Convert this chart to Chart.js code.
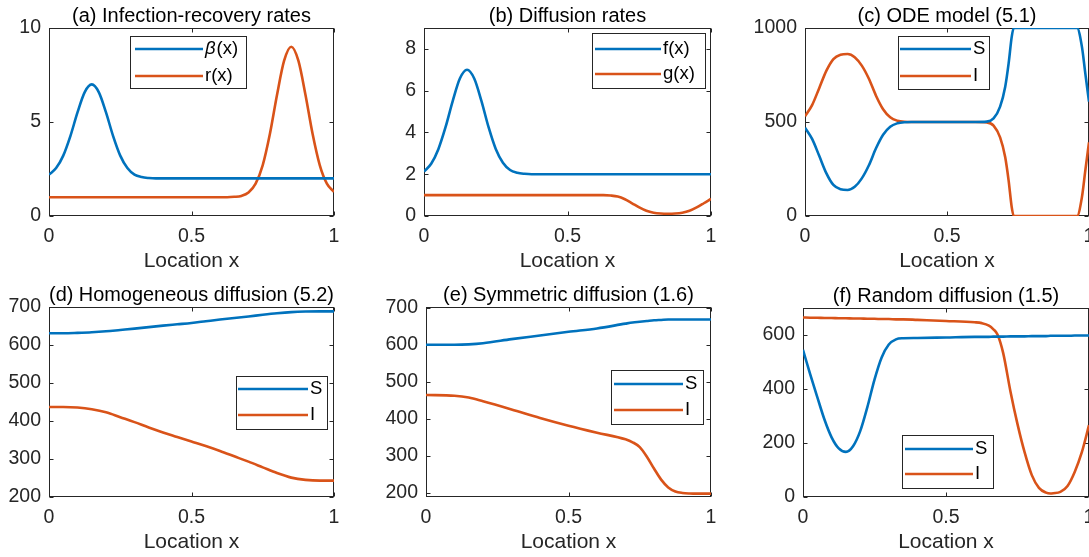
<!DOCTYPE html>
<html>
<head>
<meta charset="utf-8">
<script src="https://cdn.jsdelivr.net/npm/chart.js@4/dist/chart.umd.min.js"></script>
<style>
  html, body { margin: 0; padding: 0; background: #fff; }
  body { position: relative; width: 1089px; height: 557px; overflow: hidden; }
  canvas { position: absolute; }
</style>
</head>
<body>
<canvas id="pa"></canvas>
<canvas id="pb"></canvas>
<canvas id="pc"></canvas>
<canvas id="pd"></canvas>
<canvas id="pe"></canvas>
<canvas id="pf"></canvas>
<script>
// ---- data ----
const xTicks = [0, 0.5, 1];

// (a) infection / recovery rates
const xA = [0, 0.025, 0.05, 0.075, 0.1, 0.125, 0.15, 0.175, 0.2, 0.225, 0.25, 0.275, 0.3, 0.325, 0.35, 0.375, 0.4, 0.5, 0.6,
            0.625, 0.65, 0.675, 0.7, 0.725, 0.75, 0.775, 0.8, 0.825, 0.85, 0.875, 0.9, 0.925, 0.95, 0.975, 1];
const betaA = [2.2, 2.55, 3.21, 4.25, 5.51, 6.58, 7.0, 6.58, 5.51, 4.25, 3.21, 2.55, 2.2, 2.07, 2.02, 2.0, 2.0, 2.0, 2.0,
               2.0, 2.0, 2.0, 2.0, 2.0, 2.0, 2.0, 2.0, 2.0, 2.0, 2.0, 2.0, 2.0, 2.0, 2.0, 2.0];
const rA = [1, 1, 1, 1, 1, 1, 1, 1, 1, 1, 1, 1, 1, 1, 1, 1, 1, 1, 1,
            1.0, 1.02, 1.07, 1.25, 1.72, 2.71, 4.36, 6.44, 8.26, 9.0, 8.26, 6.44, 4.36, 2.71, 1.72, 1.28];
const yTicksA = [0, 5, 10];

// (b) diffusion rates
const xB = xA;
const fB = [2.13, 2.5, 3.2, 4.25, 5.5, 6.58, 7.0, 6.58, 5.51, 4.25, 3.21, 2.55, 2.2, 2.07, 2.02, 2.0, 2.0, 2.0, 2.0,
            2.0, 2.0, 2.0, 2.0, 2.0, 2.0, 2.0, 2.0, 2.0, 2.0, 2.0, 2.0, 2.0, 2.0, 2.0, 2.0];
const gB = [1, 1, 1, 1, 1, 1, 1, 1, 1, 1, 1, 1, 1, 1, 1, 1, 1, 1, 1,
            1.0, 0.98, 0.93, 0.8, 0.61, 0.41, 0.25, 0.16, 0.12, 0.11, 0.12, 0.16, 0.25, 0.41, 0.61, 0.82];
const yTicksB = [0, 2, 4, 6, 8];

// (c) ODE model
const xC = [0, 0.025, 0.05, 0.075, 0.1, 0.125, 0.15, 0.175, 0.2, 0.225, 0.25, 0.275, 0.3, 0.325, 0.35, 0.375, 0.4, 0.5, 0.6,
            0.64, 0.664, 0.687, 0.705, 0.717, 0.728, 0.735, 0.8, 0.9, 0.958, 0.975, 0.987, 1];
const sC = [470, 410, 320, 228, 165, 142, 138, 155, 200, 270, 360, 432, 475, 493, 499, 500, 500, 500, 500,
            502, 519, 582, 688, 812, 954, 1000, 1000, 1000, 1000, 901, 759, 608];
const iC = [530, 590, 680, 772, 835, 858, 862, 845, 800, 730, 640, 568, 525, 507, 501, 500, 500, 500, 500,
            498, 481, 418, 312, 188, 46, 0, 0, 0, 0, 99, 241, 392];
const yTicksC = [0, 500, 1000];

// (d) homogeneous diffusion
const xD = [0, 0.05, 0.1, 0.15, 0.2, 0.25, 0.3, 0.35, 0.4, 0.45, 0.5, 0.55, 0.6, 0.65, 0.7, 0.75, 0.8, 0.85, 0.9, 0.95, 1];
const sD = [631, 631, 632, 633.5, 636, 639.5, 643, 647, 651, 654.5, 658, 662.5, 667, 671, 675, 679.5, 683.5, 686.5, 688, 688.5, 688.5];
const iD = [437, 437, 435.5, 431, 423, 410, 397, 383, 370, 358, 346, 334, 321, 307, 293, 278, 263, 251, 245, 243, 243];
const yTicksD = [200, 300, 400, 500, 600, 700];

// (e) symmetric diffusion
const xE = [0, 0.1, 0.15, 0.2, 0.3, 0.4, 0.5, 0.6, 0.7, 0.725, 0.75, 0.775, 0.8, 0.825, 0.85, 0.875, 0.9, 0.925, 0.95, 1];
const sE = [601, 601, 602, 605, 616, 626, 636, 645, 658, 661, 663, 665, 667, 668, 669, 669, 669, 669, 669, 669];
const iE = [465, 463, 458, 448, 426, 403, 382, 363, 345, 337, 324, 298, 266, 236, 215, 204, 200, 198.5, 198, 198];
const yTicksE = [200, 300, 400, 500, 600, 700];

// (f) random diffusion
const xF = [0, 0.025, 0.05, 0.075, 0.1, 0.125, 0.15, 0.175, 0.2, 0.225, 0.25, 0.275, 0.3, 0.325, 0.35, 0.4, 0.5, 0.6,
            0.625, 0.65, 0.665, 0.68, 0.7, 0.725, 0.75, 0.775, 0.8, 0.825, 0.85, 0.865, 0.875, 0.9, 0.925, 0.95, 0.975, 1];
const sF = [545, 455, 370, 287, 221, 180, 167, 188, 244, 333, 435, 517, 565, 584, 588, 589, 591, 593,
            593, 593, 594, 594, 594, 595, 595, 595, 596, 596, 596, 597, 597, 597, 597, 598, 598, 598];
const iF = [665, 664, 664, 663, 663, 662, 662, 661, 661, 660, 660, 659, 659, 658, 658, 656, 652, 647,
            644, 635, 622, 602, 533, 393, 270, 165, 81, 34, 16, 13, 14, 19, 41, 93, 166, 266];
const yTicksF = [0, 200, 400, 600];

// ---- look ----
const BLUE = '#0072BD', ORANGE = '#D95319', INK = '#262626';
const FAMILY = '"Liberation Sans", Arial, Helvetica, sans-serif';
const YW = 56, XH = 58, TOP = 28, RPAD = 20;
Chart.defaults.font.family = FAMILY;
Chart.defaults.color = INK;

// matlab style box, inward ticks and an inset legend
const matlabAxes = {
  id: 'matlabAxes',
  beforeDatasetsDraw(chart) {
    const { ctx, chartArea: a, scales: { x, y } } = chart;
    const L = Math.round(a.left) + 0.5, R = Math.round(a.right) - 0.5;
    const T = Math.round(a.top) + 0.5, B = Math.round(a.bottom) - 0.5;
    ctx.save();
    ctx.strokeStyle = INK;
    ctx.lineWidth = 1;
    ctx.strokeRect(L, T, R - L, B - T);
    ctx.beginPath();
    x.ticks.forEach(t => {
      const px = Math.round(x.getPixelForValue(t.value)) + 0.5;
      ctx.moveTo(px, B); ctx.lineTo(px, B - 4);
      ctx.moveTo(px, T); ctx.lineTo(px, T + 4);
    });
    y.ticks.forEach(t => {
      const py = Math.round(y.getPixelForValue(t.value)) + 0.5;
      ctx.moveTo(L, py); ctx.lineTo(L + 4, py);
      ctx.moveTo(R, py); ctx.lineTo(R - 4, py);
    });
    ctx.stroke();
    ctx.restore();
  },
  afterDraw(chart, args, opts) {
    const lg = opts.legend;
    if (!lg) return;
    const { ctx, chartArea: a } = chart;
    const bx = Math.round(a.left) + lg.dx, by = Math.round(a.top) + lg.dy;
    ctx.save();
    ctx.fillStyle = '#fff';
    ctx.fillRect(bx, by, lg.w, lg.h);
    ctx.strokeStyle = INK;
    ctx.lineWidth = 1;
    ctx.strokeRect(bx + 0.5, by + 0.5, lg.w, lg.h);
    chart.data.datasets.forEach((ds, i) => {
      const ry = by + lg.rows[i];
      ctx.strokeStyle = ds.borderColor;
      ctx.lineWidth = 2.6;
      ctx.beginPath();
      ctx.moveTo(bx + lg.l0, ry);
      ctx.lineTo(bx + lg.l1, ry);
      ctx.stroke();
      ctx.fillStyle = '#000';
      ctx.textBaseline = 'middle';
      let tx = bx + lg.l1 + 2;
      let label = ds.label;
      if (label.startsWith('β')) {
        ctx.font = 'italic 18.5px ' + FAMILY;
        ctx.fillText('β', tx, ry);
        tx += ctx.measureText('β').width + 1;
        label = label.slice(1);
      }
      ctx.font = '18.5px ' + FAMILY;
      ctx.fillText(label, tx, ry);
    });
    ctx.restore();
  }
};

function series(label, xs, ys, color) {
  return {
    label,
    data: xs.map((x, i) => ({ x, y: ys[i] })),
    borderColor: color,
    borderWidth: 2.6,
    pointRadius: 0,
    fill: false,
    cubicInterpolationMode: 'monotone'
  };
}

function panel(id, area, title, yMin, yMax, yTicks, datasets, legend) {
  const [L, T, R, B] = area;
  const cv = document.getElementById(id);
  cv.width = YW + (R - L) + RPAD;
  cv.height = TOP + (B - T) + XH;
  cv.style.left = (L - YW) + 'px';
  cv.style.top = (T - TOP) + 'px';
  const tickFont = { size: 19.5, lineHeight: 1 };
  new Chart(cv, {
    type: 'line',
    data: { datasets },
    options: {
      responsive: false,
      animation: false,
      events: [],
      layout: { padding: { left: 0, right: RPAD, top: 0, bottom: 0 } },
      plugins: {
        legend: { display: false },
        tooltip: { enabled: false },
        title: {
          display: true, text: title, color: '#000', fullSize: false,
          font: { size: 20, weight: 'normal', lineHeight: 1 },
          padding: { top: 6, bottom: 2 }
        },
        matlabAxes: { legend }
      },
      scales: {
        x: {
          type: 'linear', min: 0, max: 1,
          afterBuildTicks: s => { s.ticks = xTicks.map(v => ({ value: v })); },
          afterFit: s => { s.height = XH; },
          grid: { display: false, drawTicks: false },
          border: { display: false },
          ticks: { padding: 11, font: tickFont, color: INK, maxRotation: 0, callback: v => String(v) },
          title: { display: true, text: 'Location x', color: INK, font: { size: 21, lineHeight: 1 }, padding: { top: 0, bottom: 2.5 } }
        },
        y: {
          type: 'linear', min: yMin, max: yMax,
          afterBuildTicks: s => { s.ticks = yTicks.map(v => ({ value: v })); },
          afterFit: s => { s.width = YW; },
          grid: { display: false, drawTicks: false },
          border: { display: false },
          ticks: { padding: 8, font: tickFont, color: INK, callback: v => String(v) }
        }
      }
    },
    plugins: [matlabAxes]
  });
}

panel('pa', [49, 28, 334, 216], '(a) Infection-recovery rates', 0, 10, yTicksA,
  [series('β(x)', xA, betaA, BLUE), series('r(x)', xA, rA, ORANGE)],
  { dx: 81, dy: 8, w: 116, h: 52, l0: 5, l1: 73, rows: [13, 40] });

panel('pb', [424, 28, 711, 216], '(b) Diffusion rates', 0, 9, yTicksB,
  [series('f(x)', xB, fB, BLUE), series('g(x)', xB, gB, ORANGE)],
  { dx: 168, dy: 5, w: 113, h: 55, l0: 3, l1: 69, rows: [16, 41] });

panel('pc', [805, 28, 1089, 216], '(c) ODE model (5.1)', 0, 1000, yTicksC,
  [series('S', xC, sC, BLUE), series('I', xC, iC, ORANGE)],
  { dx: 93, dy: 8, w: 91, h: 53, l0: 2, l1: 73, rows: [13, 40] });

panel('pd', [49, 307, 334, 497], '(d) Homogeneous diffusion (5.2)', 200, 700, yTicksD,
  [series('S', xD, sD, BLUE), series('I', xD, iD, ORANGE)],
  { dx: 187, dy: 69, w: 91, h: 53, l0: 2, l1: 72, rows: [13, 39] });

panel('pe', [426, 307, 711, 497], '(e) Symmetric diffusion (1.6)', 189, 703, yTicksE,
  [series('S', xE, sE, BLUE), series('I', xE, iE, ORANGE)],
  { dx: 185, dy: 63, w: 92, h: 54, l0: 3, l1: 72, rows: [14, 40] });

panel('pf', [803, 308, 1089, 497], '(f) Random diffusion (1.5)', 0, 700, yTicksF,
  [series('S', xF, sF, BLUE), series('I', xF, iF, ORANGE)],
  { dx: 99, dy: 127, w: 91, h: 53, l0: 3, l1: 71, rows: [14, 39] });
</script>
</body>
</html>
